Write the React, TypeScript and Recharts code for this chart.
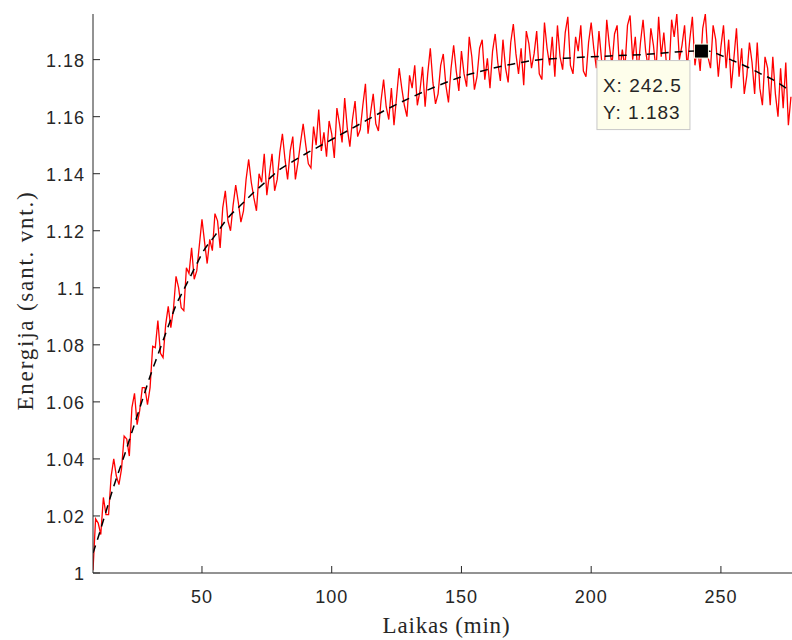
import { LineChart, Line, XAxis, YAxis, ReferenceDot } from "recharts";

// measured energy, one reading per minute starting at minute 8
const startMinute = 8;
const energy = [
  1.001, 1.019, 1.0175, 1.0135, 1.0265, 1.0205, 1.0205, 1.034, 1.040, 1.034,
  1.031, 1.0365, 1.048, 1.047, 1.041, 1.058, 1.063, 1.052, 1.057, 1.065,
  1.065, 1.059, 1.065, 1.0795, 1.079, 1.0885, 1.077, 1.0755, 1.087, 1.0935,
  1.086, 1.0925, 1.104, 1.100, 1.093, 1.092, 1.107, 1.105, 1.114, 1.103,
  1.106, 1.115, 1.124, 1.116, 1.1085, 1.117, 1.113, 1.126, 1.1235, 1.114,
  1.128, 1.134, 1.1235, 1.120, 1.129, 1.136, 1.130, 1.123, 1.127, 1.138,
  1.145, 1.137, 1.1315, 1.127, 1.140, 1.137, 1.147, 1.1325, 1.140, 1.147,
  1.134, 1.138, 1.1475, 1.154, 1.145, 1.138, 1.148, 1.153, 1.138, 1.144,
  1.151, 1.1575, 1.150, 1.1435, 1.142, 1.1565, 1.150, 1.1625, 1.148, 1.1545,
  1.146, 1.1585, 1.154, 1.1455, 1.163, 1.1575, 1.151, 1.1665, 1.156, 1.1495,
  1.159, 1.1655, 1.153, 1.1555, 1.164, 1.1715, 1.154, 1.1615, 1.168, 1.1575,
  1.155, 1.1655, 1.173, 1.1635, 1.159, 1.170, 1.157, 1.167, 1.177, 1.170,
  1.164, 1.160, 1.1745, 1.170, 1.178, 1.164, 1.169, 1.1775, 1.1635, 1.175,
  1.184, 1.172, 1.1645, 1.168, 1.178, 1.182, 1.171, 1.165, 1.177, 1.185,
  1.176, 1.169, 1.183, 1.175, 1.1705, 1.188, 1.181, 1.1695, 1.174, 1.184,
  1.187, 1.173, 1.1805, 1.170, 1.183, 1.189, 1.179, 1.1725, 1.187, 1.177,
  1.172, 1.186, 1.1925, 1.182, 1.175, 1.184, 1.171, 1.190, 1.1855, 1.177,
  1.182, 1.190, 1.175, 1.173, 1.193, 1.184, 1.178, 1.188, 1.174, 1.192,
  1.181, 1.1765, 1.1895, 1.195, 1.178, 1.175, 1.188, 1.183, 1.192, 1.176,
  1.174, 1.186, 1.193, 1.184, 1.177, 1.190, 1.180, 1.175, 1.194, 1.185,
  1.178, 1.189, 1.192, 1.1755, 1.1835, 1.177, 1.192, 1.1955, 1.180, 1.188,
  1.175, 1.186, 1.194, 1.183, 1.177, 1.191, 1.185, 1.176, 1.195, 1.181,
  1.1895, 1.1785, 1.1755, 1.194, 1.188, 1.196, 1.180, 1.185, 1.192, 1.177,
  1.187, 1.195, 1.178, 1.185, 1.176, 1.191, 1.196, 1.181, 1.177, 1.192,
  1.187, 1.174, 1.1845, 1.192, 1.177, 1.187, 1.170, 1.1805, 1.191, 1.174,
  1.184, 1.168, 1.1745, 1.186, 1.179, 1.168, 1.186, 1.170, 1.164, 1.181,
  1.177, 1.164, 1.181, 1.168, 1.160, 1.177, 1.163, 1.179, 1.157, 1.167,
];

// fitted trend (dashed)
const fitMinutes = [
  8, 10, 12, 14, 16, 18, 20, 22, 24, 26, 28, 30, 32, 34, 36, 38, 40, 42, 44, 46,
  48, 50, 55, 60, 65, 70, 75, 80, 85, 90, 95, 100, 110, 120, 130, 140, 150, 160,
  170, 180, 190, 200, 210, 220, 230, 240, 245, 250, 255, 260, 265, 270, 275, 277,
];
const fitEnergy = [
  1.007, 1.0125, 1.0185, 1.0245, 1.0304, 1.0358, 1.041, 1.0466, 1.0522, 1.0578,
  1.0634, 1.069, 1.074, 1.079, 1.084, 1.089, 1.094, 1.0976, 1.1012, 1.1048,
  1.1084, 1.112, 1.1183, 1.1245, 1.129, 1.1335, 1.1375, 1.1415, 1.1443, 1.147,
  1.1495, 1.152, 1.157, 1.162, 1.1665, 1.1705, 1.174, 1.1765, 1.1785, 1.18,
  1.1805, 1.181, 1.1814, 1.1818, 1.1825, 1.183, 1.183, 1.1815, 1.1795, 1.1775,
  1.1752, 1.173, 1.1701, 1.169,
];

const xTicks = [50, 100, 150, 200, 250];
const yTicks = [1, 1.02, 1.04, 1.06, 1.08, 1.1, 1.12, 1.14, 1.16, 1.18];
const tipX = 242.5;
const tipY = 1.183;

const measured = energy.map((e, i) => ({ t: startMinute + i, e }));
const fitted = fitMinutes.map((t, i) => ({ t, e: fitEnergy[i] }));

const ink = "#262626";
const sans = "'Liberation Sans', Arial, sans-serif";
const serif = "'Liberation Serif', 'Times New Roman', serif";

function XTick({ x, y, payload }: any) {
  return (
    <g>
      <line x1={x} x2={x} y1={y} y2={y - 7} stroke={ink} />
      <text x={x} y={y + 30} textAnchor="middle" fontFamily={sans} fontSize={18} letterSpacing={1} fill={ink}>
        {payload.value}
      </text>
    </g>
  );
}

function YTick({ x, y, payload }: any) {
  return (
    <g>
      <line x1={x} x2={x + 7} y1={y} y2={y} stroke={ink} />
      <text x={x - 8} y={y + 7} textAnchor="end" fontFamily={sans} fontSize={18} letterSpacing={1} fill={ink}>
        {String(payload.value)}
      </text>
    </g>
  );
}

function DataTip({ cx, cy }: any) {
  return (
    <g>
      <rect x={cx - 104.5} y={cy + 9.5} width={93} height={69} fill="#fefeeb" stroke="#c8c8c8" />
      <text x={cx - 98.5} y={cy + 40.5} fontFamily={sans} fontSize={19} letterSpacing={1} fill={ink}>
        {`X: ${tipX}`}
      </text>
      <text x={cx - 98.5} y={cy + 67.5} fontFamily={sans} fontSize={19} letterSpacing={1} fill={ink}>
        {`Y: ${tipY}`}
      </text>
      <rect x={cx - 7} y={cy - 7} width={14} height={14} fill="#000" stroke="#fefeeb" />
    </g>
  );
}

export default function App() {
  return (
    <div style={{ position: "absolute", left: 0, top: 0, width: 792, height: 640, background: "#fff" }}>
      <LineChart width={792} height={640} margin={{ top: 14, right: 0, bottom: 0, left: 0 }}>
        <XAxis
          dataKey="t"
          type="number"
          domain={[8, 277.4]}
          allowDataOverflow
          ticks={xTicks}
          tickLine={false}
          tickSize={0}
          tickMargin={0}
          height={67}
          axisLine={{ stroke: ink }}
          tick={(p: any) => <XTick {...p} />}
          label={(p: any) => {
            const vb = p.viewBox;
            return (
              <text x={vb.x + vb.width / 2 + 4} y={vb.y + 60} textAnchor="middle" fontFamily={serif} fontSize={23} letterSpacing={0.8} fill={ink}>
                Laikas (min)
              </text>
            );
          }}
        />
        <YAxis
          type="number"
          domain={[1, 1.196]}
          allowDataOverflow
          ticks={yTicks}
          tickLine={false}
          tickSize={0}
          tickMargin={0}
          width={93}
          axisLine={{ stroke: ink }}
          tick={(p: any) => <YTick {...p} />}
          label={(p: any) => {
            const vb = p.viewBox;
            const cx = vb.x + 33;
            const cy = vb.y + vb.height / 2 + 7;
            return (
              <text x={cx} y={cy} transform={`rotate(-90, ${cx}, ${cy})`} textAnchor="middle" fontFamily={serif} fontSize={23} letterSpacing={1.8} fill={ink}>
                Energija (sant. vnt.)
              </text>
            );
          }}
        />
        <Line data={measured} dataKey="e" type="linear" stroke="#ff0000" strokeWidth={1.3} dot={false} activeDot={false} isAnimationActive={false} />
        <Line data={fitted} dataKey="e" type="monotone" stroke="#000" strokeWidth={1.5} strokeDasharray="8 6" dot={false} activeDot={false} isAnimationActive={false} />
        <ReferenceDot x={tipX} y={tipY} r={7} ifOverflow="visible" shape={(p: any) => <DataTip {...p} />} />
      </LineChart>
    </div>
  );
}
